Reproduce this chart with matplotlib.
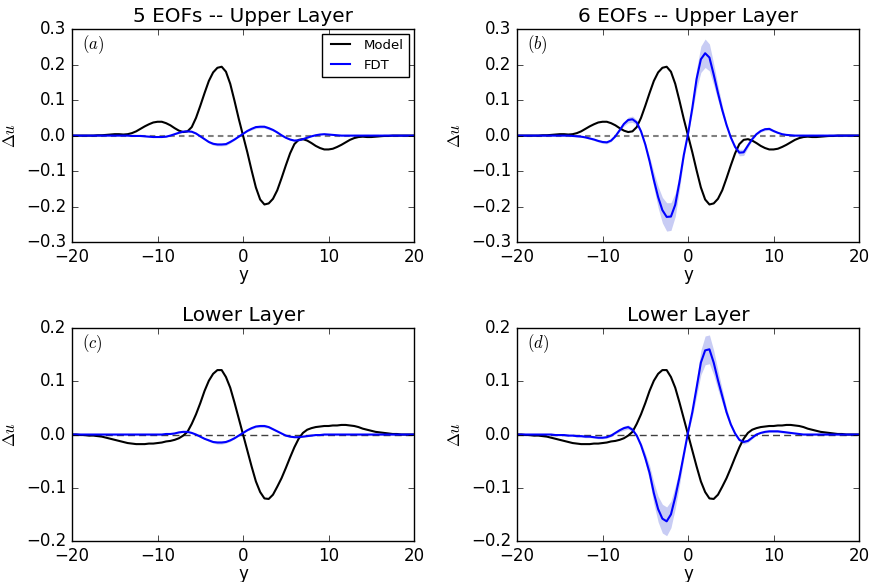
import numpy as np
import matplotlib
matplotlib.use("Agg")
import matplotlib.pyplot as plt
from matplotlib.ticker import FuncFormatter

plt.style.use("classic")
plt.rcParams["axes.unicode_minus"] = True

# y grid (step 0.5 from -20 to 20)
y = np.arange(-20, 20.5, 0.5)

# model response, upper layer
model_upper = [
    0, 0, 0, 0, 0, 0, 0.001, 0.001, 0.002, 0.003,
    0.004, 0.004, 0.003, 0.004, 0.007, 0.012, 0.019, 0.026, 0.032, 0.037,
    0.039, 0.039, 0.035, 0.029, 0.021, 0.014, 0.010, 0.012, 0.024, 0.050,
    0.084, 0.120, 0.154, 0.178, 0.191, 0.194, 0.180, 0.146, 0.098, 0.047,
    0, -0.047, -0.098, -0.146, -0.180, -0.194, -0.191, -0.178, -0.154, -0.120,
    -0.084, -0.050, -0.024, -0.012, -0.010, -0.014, -0.021, -0.029, -0.035, -0.039,
    -0.039, -0.037, -0.032, -0.026, -0.019, -0.012, -0.007, -0.004, -0.003, -0.004,
    -0.004, -0.003, -0.002, -0.001, -0.001, 0, 0, 0, 0, 0,
    0]

# model response, lower layer
model_lower = [
    0, 0, -0.001, -0.001, -0.002, -0.002, -0.003, -0.004, -0.006, -0.008,
    -0.010, -0.012, -0.014, -0.016, -0.017, -0.018, -0.018, -0.018, -0.017, -0.017,
    -0.016, -0.015, -0.013, -0.012, -0.010, -0.007, -0.002, 0.005, 0.020, 0.038,
    0.059, 0.082, 0.101, 0.114, 0.121, 0.121, 0.108, 0.088, 0.060, 0.030,
    0, -0.030, -0.060, -0.088, -0.108, -0.120, -0.121, -0.113, -0.098, -0.082,
    -0.063, -0.043, -0.024, -0.008, 0.003, 0.009, 0.012, 0.014, 0.015, 0.016,
    0.016, 0.017, 0.017, 0.018, 0.018, 0.017, 0.016, 0.014, 0.011, 0.009,
    0.007, 0.005, 0.004, 0.003, 0.002, 0.001, 0.001, 0, 0, 0,
    0]

# FDT, 5 EOFs, upper layer
fdt_a = [
    0, 0, 0, 0, 0, 0, 0, 0, 0, 0,
    0, 0, 0, 0, -0.001, -0.001, -0.001, -0.002, -0.003, -0.004,
    -0.004, -0.004, -0.003, 0.000, 0.004, 0.008, 0.011, 0.012, 0.011, 0.006,
    -0.002, -0.010, -0.018, -0.023, -0.025, -0.025, -0.024, -0.018, -0.011, -0.003,
    0.005, 0.013, 0.019, 0.024, 0.025, 0.025, 0.021, 0.016, 0.009, 0.001,
    -0.006, -0.011, -0.014, -0.013, -0.010, -0.006, -0.002, 0.001, 0.003, 0.004,
    0.003, 0.002, 0.001, 0, 0, 0, 0, 0, 0, 0,
    0, 0, 0, 0, 0, 0, 0, 0, 0, 0,
    0]
err_a = [
    0.001, 0.001, 0.001, 0.001, 0.001, 0.001, 0.001, 0.001, 0.001, 0.001,
    0.001, 0.001, 0.001, 0.001, 0.001, 0.001, 0.001, 0.001, 0.001, 0.001,
    0.001, 0.001, 0.001, 0.001, 0.001, 0.002, 0.002, 0.002, 0.002, 0.002,
    0.001, 0.002, 0.003, 0.004, 0.004, 0.004, 0.004, 0.003, 0.002, 0.001,
    0.001, 0.002, 0.003, 0.004, 0.004, 0.004, 0.004, 0.003, 0.002, 0.001,
    0.001, 0.002, 0.002, 0.002, 0.002, 0.001, 0.001, 0.001, 0.001, 0.001,
    0.001, 0.001, 0.001, 0.001, 0.001, 0.001, 0.001, 0.001, 0.001, 0.001,
    0.001, 0.001, 0.001, 0.001, 0.001, 0.001, 0.001, 0.001, 0.001, 0.001,
    0.001]

# FDT, 6 EOFs, upper layer
fdt_b = [
    0, 0, 0, 0, 0, 0, 0, 0, 0, 0,
    0, 0, 0, -0.001, -0.002, -0.003, -0.005, -0.008, -0.011, -0.015,
    -0.018, -0.019, -0.014, -0.002, 0.015, 0.033, 0.044, 0.046, 0.037, 0.012,
    -0.025, -0.072, -0.125, -0.173, -0.210, -0.229, -0.228, -0.195, -0.130, -0.055,
    0.005, 0.078, 0.160, 0.215, 0.232, 0.220, 0.172, 0.120, 0.072, 0.030,
    -0.005, -0.032, -0.048, -0.047, -0.028, -0.010, 0.004, 0.013, 0.018, 0.019,
    0.013, 0.008, 0.004, 0.002, 0.001, 0, 0, 0, 0, 0,
    0, 0, 0, 0, 0, 0, 0, 0, 0, 0,
    0]
err_b = [
    0.001, 0.001, 0.001, 0.001, 0.001, 0.001, 0.001, 0.001, 0.001, 0.001,
    0.001, 0.001, 0.001, 0.001, 0.001, 0.001, 0.002, 0.002, 0.003, 0.003,
    0.004, 0.004, 0.003, 0.002, 0.003, 0.006, 0.008, 0.009, 0.007, 0.003,
    0.005, 0.013, 0.022, 0.030, 0.036, 0.040, 0.039, 0.033, 0.022, 0.010,
    0.002, 0.014, 0.028, 0.037, 0.040, 0.038, 0.030, 0.021, 0.013, 0.006,
    0.002, 0.006, 0.009, 0.009, 0.006, 0.003, 0.002, 0.003, 0.004, 0.004,
    0.003, 0.002, 0.001, 0.001, 0.001, 0.001, 0.001, 0.001, 0.001, 0.001,
    0.001, 0.001, 0.001, 0.001, 0.001, 0.001, 0.001, 0.001, 0.001, 0.001,
    0.001]

# FDT, 5 EOFs, lower layer
fdt_c = [
    0, 0, 0, 0, 0, 0, 0, 0, 0, 0,
    0, 0, 0, 0, 0, 0, 0, 0, 0, 0,
    0, 0, 0.001, 0.001, 0.002, 0.004, 0.005, 0.005, 0.003, 0.000,
    -0.004, -0.008, -0.011, -0.014, -0.015, -0.015, -0.014, -0.011, -0.007, -0.002,
    0.003, 0.008, 0.012, 0.015, 0.016, 0.016, 0.014, 0.010, 0.006, 0.002,
    -0.002, -0.004, -0.005, -0.005, -0.004, -0.003, -0.002, -0.001, -0.001, 0,
    0, 0, 0, 0, 0, 0, 0, 0, 0, 0,
    0, 0, 0, 0, 0, 0, 0, 0, 0, 0,
    0]
err_c = [
    0.001, 0.001, 0.001, 0.001, 0.001, 0.001, 0.001, 0.001, 0.001, 0.001,
    0.001, 0.001, 0.001, 0.001, 0.001, 0.001, 0.001, 0.001, 0.001, 0.001,
    0.001, 0.001, 0.001, 0.001, 0.001, 0.001, 0.001, 0.001, 0.001, 0.001,
    0.001, 0.001, 0.002, 0.002, 0.003, 0.003, 0.002, 0.002, 0.001, 0.001,
    0.001, 0.001, 0.002, 0.002, 0.003, 0.003, 0.002, 0.002, 0.001, 0.001,
    0.001, 0.001, 0.001, 0.001, 0.001, 0.001, 0.001, 0.001, 0.001, 0.001,
    0.001, 0.001, 0.001, 0.001, 0.001, 0.001, 0.001, 0.001, 0.001, 0.001,
    0.001, 0.001, 0.001, 0.001, 0.001, 0.001, 0.001, 0.001, 0.001, 0.001,
    0.001]

# FDT, 6 EOFs, lower layer
fdt_d = [
    0, 0, 0, 0, 0, 0, 0, 0, 0, -0.001,
    -0.001, -0.001, -0.002, -0.002, -0.003, -0.003, -0.004, -0.004, -0.005, -0.006,
    -0.006, -0.005, -0.002, 0.003, 0.008, 0.012, 0.014, 0.009, -0.002, -0.020,
    -0.044, -0.072, -0.110, -0.140, -0.158, -0.163, -0.150, -0.118, -0.080, -0.038,
    0.004, 0.042, 0.088, 0.135, 0.158, 0.160, 0.135, 0.102, 0.072, 0.042,
    0.019, 0.002, -0.010, -0.014, -0.012, -0.006, 0.000, 0.003, 0.005, 0.006,
    0.006, 0.006, 0.005, 0.004, 0.003, 0.002, 0.001, 0, 0, 0,
    0, 0, 0, 0, 0, 0, 0, 0, 0, 0,
    0]
err_d = [
    0.001, 0.001, 0.001, 0.001, 0.001, 0.001, 0.001, 0.001, 0.001, 0.001,
    0.001, 0.001, 0.001, 0.001, 0.002, 0.002, 0.002, 0.002, 0.002, 0.002,
    0.002, 0.002, 0.002, 0.002, 0.003, 0.004, 0.004, 0.004, 0.002, 0.005,
    0.009, 0.014, 0.020, 0.024, 0.027, 0.027, 0.025, 0.021, 0.015, 0.008,
    0.002, 0.009, 0.016, 0.023, 0.027, 0.027, 0.023, 0.018, 0.013, 0.008,
    0.004, 0.002, 0.003, 0.004, 0.003, 0.002, 0.001, 0.001, 0.002, 0.002,
    0.002, 0.002, 0.002, 0.001, 0.001, 0.001, 0.001, 0.001, 0.001, 0.001,
    0.001, 0.001, 0.001, 0.001, 0.001, 0.001, 0.001, 0.001, 0.001, 0.001,
    0.001]

titles = ["5 EOFs -- Upper Layer", "6 EOFs -- Upper Layer", "Lower Layer", "Lower Layer"]
labels = ["(a)", "(b)", "(c)", "(d)"]

# tick labels with a real minus sign
fmt_x = FuncFormatter(lambda v, p: ("%d" % round(v)).replace("-", "\u2212"))
fmt_y = FuncFormatter(lambda v, p: ("%.1f" % (v + 0.0)).replace("-0.0", "0.0").replace("-", "\u2212"))

fig = plt.figure(figsize=(8.71, 5.82), dpi=100, facecolor="white")

# axes boxes in figure fractions
w, h = 0.3927, 0.366
boxes = [[0.0827, 0.584, w, h], [0.5936, 0.584, w, h],
         [0.0827, 0.0704, w, h], [0.5936, 0.0704, w, h]]

panels = [
    (model_upper, fdt_a, err_a),
    (model_upper, fdt_b, err_b),
    (model_lower, fdt_c, err_c),
    (model_lower, fdt_d, err_d),
]

for i, (m, f, e) in enumerate(panels):
    ax = fig.add_axes(boxes[i])
    f = np.array(f)
    e = np.array(e)
    ax.fill_between(y, f - e, f + e, color="#c8ccf4", lw=0)
    upper = i < 2
    if upper:
        ax.axhline(0, color="0.5", ls="--", lw=1.5, dashes=(4, 3))
    else:
        ax.axhline(0, color="0.25", ls="--", lw=1.0, dashes=(5, 3))
    ax.plot(y, m, color="k", lw=1.5, label="Model")
    ax.plot(y, f, color="b", lw=1.5, label="FDT")

    ax.set_xlim(-20, 20)
    ax.set_xticks([-20, -10, 0, 10, 20])
    if upper:
        ax.set_ylim(-0.3, 0.3)
        ax.set_yticks([-0.3, -0.2, -0.1, 0.0, 0.1, 0.2, 0.3])
    else:
        ax.set_ylim(-0.2, 0.2)
        ax.set_yticks([-0.2, -0.1, 0.0, 0.1, 0.2])
    ax.xaxis.set_major_formatter(fmt_x)
    ax.yaxis.set_major_formatter(fmt_y)
    ax.set_title(titles[i], fontsize=14.4)
    ax.set_xlabel("y", fontsize=12, labelpad=0)
    ax.set_ylabel(r"$\Delta u$", fontsize=12)
    ax.text(0.03, 0.925, "$" + labels[i] + "$", transform=ax.transAxes,
            fontsize=12, va="center", ha="left")
    if i == 0:
        ax.legend(loc="upper right", fontsize=9.5, borderaxespad=0.35)

plt.savefig("out.png", dpi=100, facecolor="white")
